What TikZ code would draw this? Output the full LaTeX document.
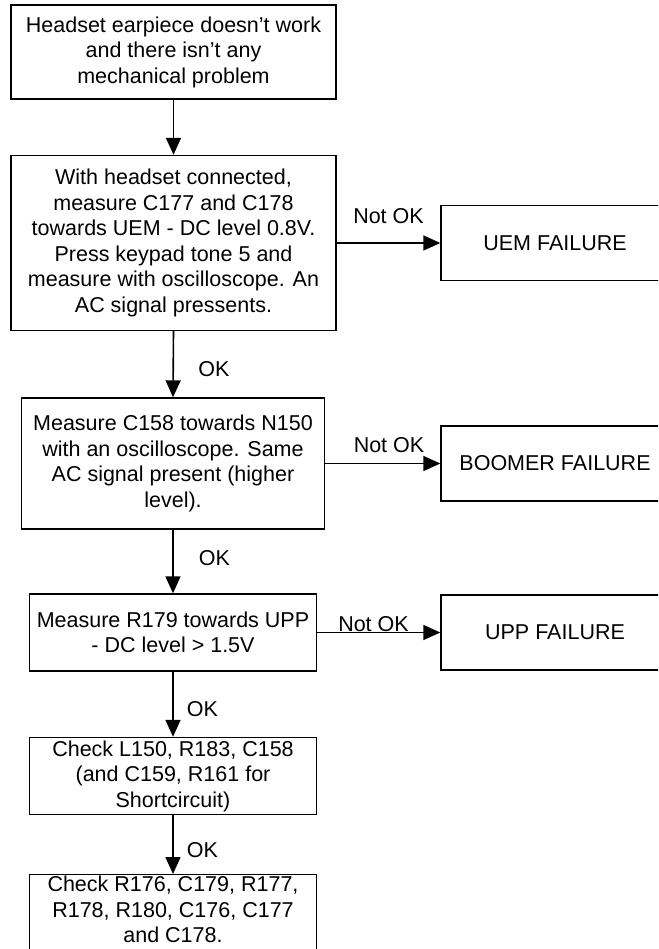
\documentclass[tikz,border=0pt]{standalone}
\usepackage{fontspec}
\setmainfont{Liberation Sans}
\usetikzlibrary{arrows.meta}
\newcommand\diafont{\fontsize{21.5}{25.5}\selectfont}
\begin{document}
\begin{tikzpicture}[x=1pt,y=-1pt,
  box/.style={draw, line width=1.4pt, inner sep=0pt, align=center, font=\diafont},
  flow/.style={line width=1.6pt, -{Triangle[length=17pt,width=15pt]}},
  lbl/.style={font=\diafont, inner sep=0pt, anchor=base}]
\useasboundingbox (0,0) rectangle (658,949);
\clip (0,0) rectangle (658,949);

\node[box, minimum width=325, minimum height=94] (b1) at (173.5,52)
  {Headset earpiece doesn’t work\\and there isn’t any\\mechanical problem};
\node[box, minimum width=325, minimum height=175] (b2) at (173.5,243)
  {With headset connected,\\measure C177 and C178\\towards UEM - DC level 0.8V.\\Press keypad tone 5 and\\measure with oscilloscope. An\\AC signal pressents.};
\node[box, minimum width=228, minimum height=75] (uem) at (555,243) {UEM FAILURE};

\node[box, minimum width=302.6, minimum height=131] (b3) at (173,463.5)
  {Measure C158 towards N150\\with an oscilloscope. Same\\AC signal present (higher\\level).};
\node[box, minimum width=228, minimum height=75] (boomer) at (555,463.5) {BOOMER FAILURE};

\node[box, minimum width=287.4, minimum height=77] (b4) at (173,632.5)
  {Measure R179 towards UPP\\- DC level > 1.5V};
\node[box, minimum width=228, minimum height=75] (upp) at (555,632.5) {UPP FAILURE};

\node[box, minimum width=287.4, minimum height=77] (b5) at (173,776)
  {Check L150, R183, C158\\(and C159, R161 for\\Shortcircuit)};
\node[box, minimum width=287.4, anchor=north, inner ysep=1.5pt, text depth=40pt] (b6) at (173,874)
  {Check R176, C179, R177,\\R178, R180, C176, C177\\and C178.};

\draw[flow] (b1.south) -- (b2.north);
\draw[flow] (b2.south) -- (b3.north);
\draw[flow] (b3.south) -- (b4.north);
\draw[flow] (b4.south) -- (b5.north);
\draw[flow] (b5.south) -- (b6.north);
\draw[flow] (b2.east) -- (uem.west);
\draw[flow] (b3.east) -- (boomer.west);
\draw[flow] (b4.east) -- (upp.west);

\node[lbl] (n1) at (388.5,224) {Not OK};
\node[lbl] (n2) at (389,452) {Not OK};
\node[lbl] (n3) at (373.5,631) {Not OK};
\node[lbl] (o1) at (214,376) {OK};
\node[lbl] (o2) at (214.5,565) {OK};
\node[lbl] (o3) at (202.5,716) {OK};
\node[lbl] (o4) at (202.5,857) {OK};
\end{tikzpicture}
\end{document}
